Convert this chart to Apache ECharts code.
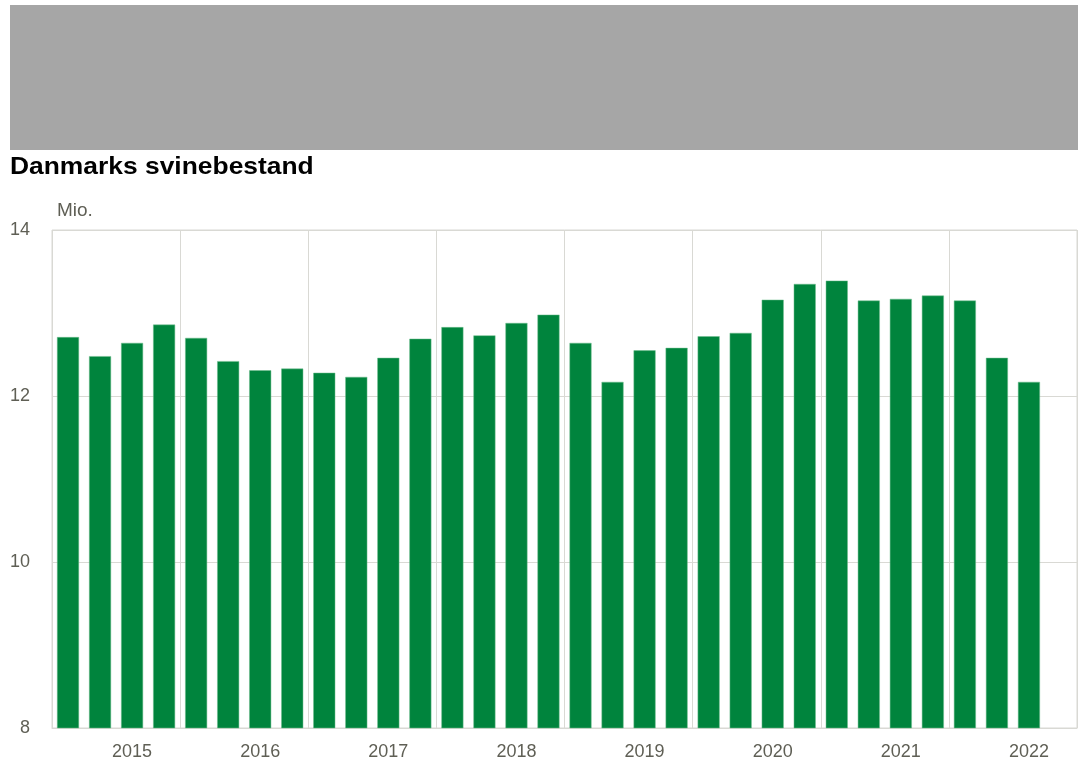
<!DOCTYPE html>
<html>
<head>
<meta charset="utf-8">
<title>Danmarks svinebestand</title>
<script src="https://cdn.jsdelivr.net/npm/echarts@6/dist/echarts.min.js"></script>
<style>
  html, body { margin: 0; padding: 0; background: #fff; }
  #chart { width: 1078px; height: 775px; }
</style>
</head>
<body>
<div id="chart"></div>
<script>
// kvartaler 2015K1 .. 2022K4 (sidste er tom)
const years = ['2015', '2016', '2017', '2018', '2019', '2020', '2021', '2022']
const quarters = ['K1', 'K2', 'K3', 'K4']
const categories = years.flatMap(y => quarters.map(q => y + q))

// svinebestand, mio. stk.
const pigs = [
  12.71, 12.48, 12.64, 12.86,
  12.70, 12.42, 12.31, 12.33,
  12.28, 12.23, 12.46, 12.69,
  12.83, 12.73, 12.88, 12.98,
  12.64, 12.17, 12.55, 12.58,
  12.72, 12.76, 13.16, 13.35,
  13.39, 13.15, 13.17, 13.21,
  13.15, 12.46, 12.17, null
]

const yTicks = [8, 10, 12, 14]

const gridColor = '#d9d9d4'
const labelColor = '#5f5f55'
const font = 'Arial, "Liberation Sans", sans-serif'

const chart = echarts.init(document.getElementById('chart'), null, { renderer: 'canvas' })

chart.setOption({
  animation: false,
  graphic: [
    {
      type: 'rect',
      shape: { x: 10, y: 5, width: 1068, height: 145 },
      style: { fill: '#a6a6a6' }
    },
    {
      type: 'text',
      x: 10,
      y: 155,
      scaleX: 1.1,
      style: {
        text: 'Danmarks svinebestand',
        font: 'bold 24px ' + font,
        fill: '#000'
      }
    },
    {
      type: 'text',
      x: 57,
      y: 201,
      style: {
        text: 'Mio.',
        font: '19px ' + font,
        fill: labelColor
      }
    }
  ],
  grid: {
    left: 52,
    top: 230,
    right: 1,
    bottom: 47,
    show: true,
    borderColor: gridColor,
    borderWidth: 1
  },
  xAxis: {
    type: 'category',
    data: categories,
    boundaryGap: true,
    axisLine: { show: true, lineStyle: { color: gridColor } },
    axisTick: { show: false },
    axisLabel: {
      interval: (i) => i % 4 === 2,
      formatter: v => v.slice(0, 4),
      color: labelColor,
      fontSize: 18,
      fontFamily: font,
      margin: 15
    },
    splitLine: {
      show: true,
      interval: (i) => i % 4 === 0,
      lineStyle: { color: gridColor, width: 1 }
    }
  },
  yAxis: {
    type: 'value',
    min: yTicks[0],
    max: yTicks[yTicks.length - 1],
    interval: 2,
    axisLine: { show: false },
    axisTick: { show: false },
    axisLabel: {
      color: labelColor,
      fontSize: 18,
      fontFamily: font,
      margin: 22
    },
    splitLine: { lineStyle: { color: gridColor, width: 1 } }
  },
  series: [
    {
      name: 'Svinebestand',
      type: 'bar',
      data: pigs,
      barWidth: 22,
      itemStyle: {
        color: '#00843d',
        borderColor: '#6fbf8f',
        borderWidth: 0.5
      }
    }
  ]
})
</script>
</body>
</html>
